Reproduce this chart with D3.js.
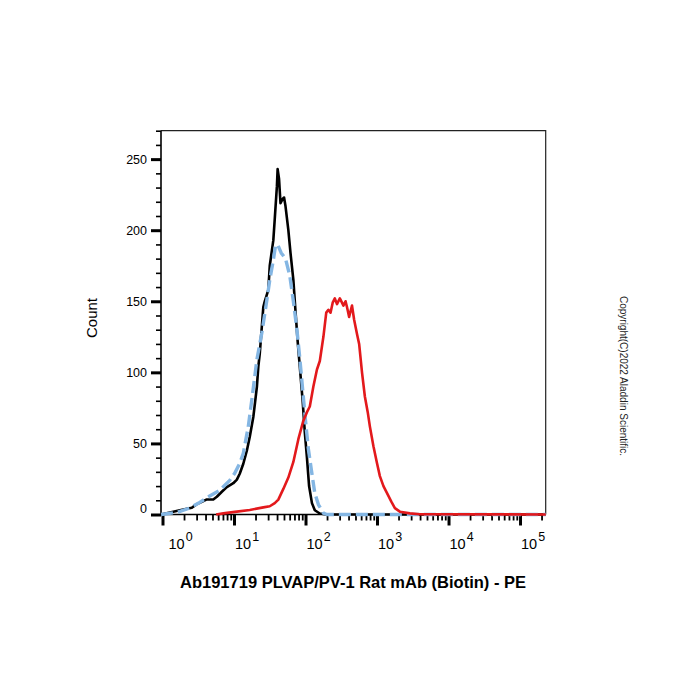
<!DOCTYPE html>
<html lang="en">
<head>
    <meta charset="UTF-8">
    <title>Ab191719 PLVAP/PV-1 - PE</title>
    <script src="https://d3js.org/d3.v7.min.js"></script>
    <style>
        body { margin: 0; background: #fff; }
        svg text { font-family: Arial, "Liberation Sans", sans-serif; fill: #000; }
    </style>
</head>
<body>
    <svg id="chart" width="700" height="700"></svg>
    <script>
        // x values are log10 of the PE intensity, y values are counts
        var blankCurve = [[-0.02,0],[0.15,1.9],[0.29,3.5],[0.41,4.7],[0.48,7.3],[0.55,8.9],[0.62,10.6],[0.71,10.6],
            [0.76,12.5],[0.83,16],[0.9,19.3],[0.99,22],[1.04,24.5],[1.08,28.7],[1.13,35.7],[1.18,45],[1.22,54.5],
            [1.27,68.6],[1.32,89.8],[1.34,104],[1.36,113],[1.41,146],[1.43,150],[1.48,158],[1.50,175],[1.55,193],
            [1.57,208],[1.60,231],[1.61,243],[1.63,236],[1.65,219],[1.68,222],[1.70,223],[1.72,217],[1.76,200],
            [1.79,184],[1.83,165],[1.86,143],[1.89,122],[1.92,104],[1.96,80],[1.99,58],[2.02,40],[2.05,20],
            [2.09,8],[2.13,3],[2.20,0.7],[2.30,0],[5.36,0]];

        var isotypeCurve = [[-0.02,0],[0.06,0.5],[0.2,1.5],[0.38,4.5],[0.52,8.5],[0.66,13],[0.8,17],[0.94,24],
            [1.01,29],[1.08,36],[1.13,43],[1.2,62],[1.25,81],[1.32,109],[1.39,128],[1.46,151],[1.5,165],[1.55,179],
            [1.58,189],[1.61,190],[1.66,184],[1.72,180],[1.78,168],[1.83,150],[1.88,130],[1.92,110],[1.96,88],
            [2.0,66],[2.04,46],[2.08,32],[2.13,15],[2.18,7],[2.25,1],[2.3,0],[5.36,0]];

        var stainedCurve = [[0.75,0],[0.85,0.8],[1.04,2],[1.22,3.2],[1.41,5],[1.5,5.8],[1.57,8],[1.62,10.5],
            [1.69,18],[1.76,26],[1.83,37],[1.9,53],[1.97,66],[2.02,72],[2.06,76],[2.11,90],[2.16,102],[2.2,108],
            [2.25,125],[2.29,142],[2.32,144],[2.35,142],[2.38,149],[2.41,152],[2.44,148],[2.48,152],[2.51,149],
            [2.53,147],[2.56,150],[2.58,146],[2.61,139],[2.65,147],[2.68,137],[2.72,127],[2.75,120],[2.79,100],
            [2.83,83],[2.87,72],[2.9,62],[2.95,48],[3.0,36],[3.04,27],[3.09,20],[3.14,15],[3.2,9],[3.25,4.5],
            [3.32,2],[3.46,0.8],[3.6,0.2],[5.36,0]];

        var xMajorTicks = [1, 10, 100, 1000, 10000, 100000];
        var xTickExponents = ["0", "1", "2", "3", "4", "5"];
        var yMajorTicks = [0, 50, 100, 150, 200, 250];

        var xTitle = "Ab191719 PLVAP/PV-1 Rat mAb (Biotin) - PE";
        var yTitle = "Count";
        var copyright = "Copyright(C)2022 Aladdin Scientific.";

        var plotLeft = 161, plotRight = 545.7, plotTop = 130.7, plotBottom = 514.5;

        var svg = d3.select("#chart");

        var x = d3.scaleLog()
            .domain([Math.pow(10, -0.021), Math.pow(10, 5.359)])
            .range([plotLeft, plotRight]);
        var y = d3.scaleLinear().domain([0, 270]).range([plotBottom, plotTop]);

        // minor ticks 2..9 of every decade inside the domain
        var xMinor = [];
        for (var d = 1; d <= 100000; d *= 10) {
            for (var k = 2; k <= 9; k++) {
                if (k * d <= x.domain()[1]) xMinor.push(k * d);
            }
        }
        var yMinor = d3.range(0, 271, 10).filter(v => v % 50 !== 0);

        // frame (top and right)
        svg.append("path")
            .attr("d", "M" + plotLeft + "," + plotTop + "H" + plotRight + "V" + plotBottom)
            .attr("fill", "none").attr("stroke", "#222").attr("stroke-width", 1.2);

        // y axis
        var gy = svg.append("g").attr("transform", "translate(" + plotLeft + ",0)");
        gy.append("g")
            .call(d3.axisLeft(y).tickValues(yMinor).tickSize(5).tickFormat(""))
            .call(g => g.selectAll("line").attr("stroke-width", 1.6));
        gy.append("g")
            .call(d3.axisLeft(y).tickValues(yMajorTicks).tickSize(10).tickPadding(4))
            .call(g => g.selectAll("line").attr("stroke-width", 3))
            .call(g => g.selectAll("text").attr("font-size", 12.5).attr("fill", "#000")
                .attr("font-family", "Arial, 'Liberation Sans', sans-serif"))
            .call(g => g.selectAll(".tick").filter(v => v === 0).select("text").attr("dy", "-0.2em"));
        gy.selectAll(".domain").remove();
        gy.append("line").attr("x1", 0).attr("x2", 0).attr("y1", plotTop).attr("y2", plotBottom + 1)
            .attr("stroke", "#000").attr("stroke-width", 1.6);

        // x axis
        var gx = svg.append("g").attr("transform", "translate(0," + plotBottom + ")");
        gx.append("g")
            .call(d3.axisBottom(x).tickValues(xMinor).tickSize(6).tickFormat(""))
            .call(g => g.selectAll("line").attr("stroke-width", 1.8));
        gx.append("g")
            .call(d3.axisBottom(x).tickValues(xMajorTicks).tickSize(11).tickFormat(""))
            .call(g => g.selectAll("line").attr("stroke-width", 3));
        gx.selectAll(".domain").remove();
        gx.append("line").attr("x1", plotLeft).attr("x2", plotRight).attr("y1", 0).attr("y2", 0)
            .attr("stroke", "#000").attr("stroke-width", 1.6);

        var xl = gx.selectAll(".xlabel").data(xMajorTicks).join("text")
            .attr("class", "xlabel")
            .attr("x", (v, i) => x(v) + (i === 0 ? 6 : 1))
            .attr("y", 34)
            .attr("font-size", 14.5);
        xl.append("tspan").text("10");
        xl.append("tspan").attr("dy", -8).attr("dx", 1).attr("font-size", 12.5)
            .text((v, i) => xTickExponents[i]);

        // curves
        var line = d3.line()
            .x(p => x(Math.pow(10, p[0])))
            .y(p => y(p[1]));

        svg.append("path").datum(blankCurve)
            .attr("d", line).attr("fill", "none")
            .attr("stroke", "#000").attr("stroke-width", 2.6).attr("stroke-linejoin", "round");
        svg.append("path").datum(isotypeCurve)
            .attr("d", line).attr("fill", "none")
            .attr("stroke", "#84b6e3").attr("stroke-width", 3.4)
            .attr("stroke-dasharray", "12,5").attr("stroke-linejoin", "round");
        svg.append("path").datum(stainedCurve)
            .attr("d", line).attr("fill", "none")
            .attr("stroke", "#e3191c").attr("stroke-width", 2.6).attr("stroke-linejoin", "round");

        // titles
        svg.append("text")
            .attr("transform", "translate(97,318) rotate(-90)")
            .attr("text-anchor", "middle").attr("font-size", 15)
            .text(yTitle);
        svg.append("text")
            .attr("x", 353).attr("y", 588)
            .attr("text-anchor", "middle").attr("font-size", 16.5).attr("font-weight", "bold")
            .text(xTitle);
        svg.append("text")
            .attr("transform", "translate(620,376) rotate(90)")
            .attr("text-anchor", "middle").attr("font-size", 10).style("fill", "#222")
            .text(copyright);
    </script>
</body>
</html>
